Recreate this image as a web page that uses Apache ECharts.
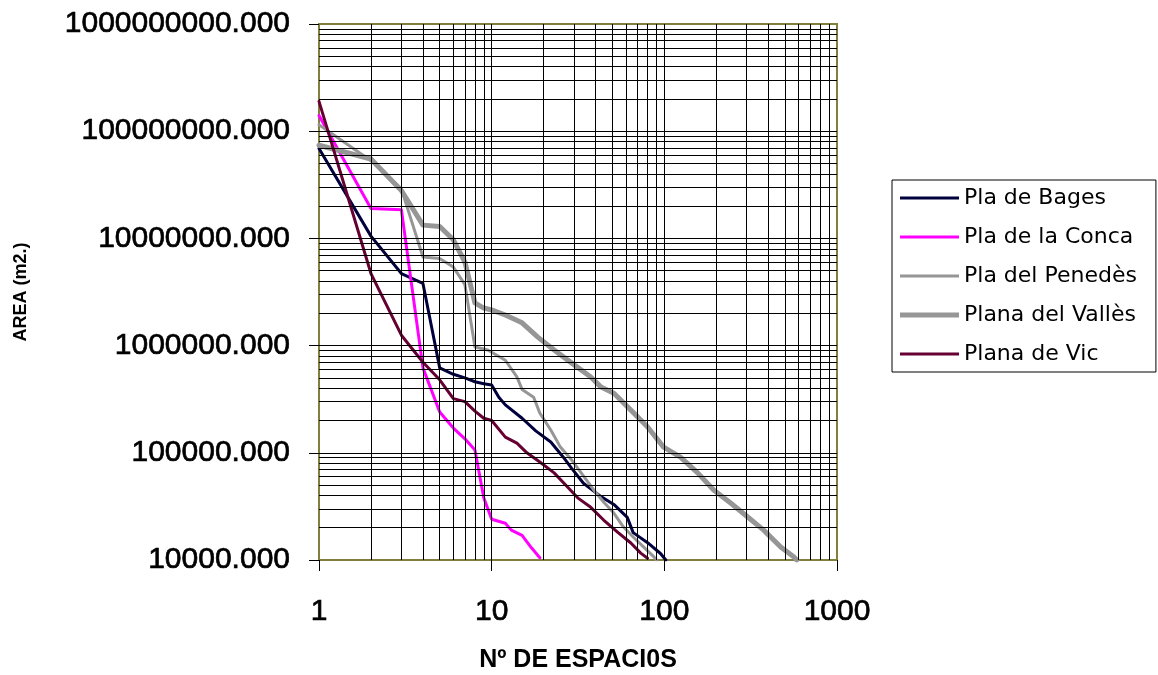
<!DOCTYPE html>
<html>
<head>
<meta charset="utf-8">
<title>Nº de espacios vs área</title>
<script src="https://cdn.jsdelivr.net/npm/echarts@6/dist/echarts.min.js"></script>
<style>
  html, body { margin: 0; padding: 0; background: #ffffff; }
  #chart { width: 1158px; height: 675px; }
</style>
</head>
<body>
<div id="chart"></div>
<script>
// Rank (Nº de espacios) and area (m2)
const bagesRank = [1, 2, 3, 4, 5, 6, 7, 8, 9, 10, 11, 12, 15, 18, 22, 26, 29, 34, 43, 51, 61, 66, 80, 95, 102];
const bagesArea = [6.9e7, 1.05e7, 4.7e6, 3.8e6, 6.2e5, 5.4e5, 5.0e5, 4.6e5, 4.4e5, 4.3e5, 3.3e5, 2.8e5, 2.1e5, 1.6e5, 1.26e5, 9.1e4, 7.2e4, 5.2e4, 3.9e4, 3.3e4, 2.5e4, 1.8e4, 1.45e4, 1.15e4, 1.0e4];

const concaRank = [1, 2, 3, 4, 5, 6, 7, 8, 9, 10, 12, 13, 15, 17, 19];
const concaArea = [1.4e8, 1.9e7, 1.85e7, 6.2e5, 2.4e5, 1.7e5, 1.35e5, 1.06e5, 3.8e4, 2.4e4, 2.2e4, 1.9e4, 1.7e4, 1.3e4, 1.05e4];

const penedesRank = [1, 2, 3, 4, 5, 6, 7, 8, 9.5, 12, 14, 15, 17.5, 19, 22, 25, 29, 33, 39, 45, 51, 58, 66, 76, 87, 90];
const penedesArea = [1.15e8, 5.3e7, 2.9e7, 6.7e6, 6.5e6, 5.4e6, 3.7e6, 9.7e5, 9.1e5, 7.3e5, 5.1e5, 3.9e5, 3.3e5, 2.35e5, 1.63e5, 1.13e5, 8.6e4, 6.5e4, 4.5e4, 3.4e4, 2.74e4, 2.03e4, 1.64e4, 1.32e4, 1.07e4, 1.0e4];

const vallesRank = [1, 2, 3, 4, 5, 6, 7, 8, 9, 10, 12, 15, 18.5, 23, 29, 37.5, 43, 51, 64, 80, 99, 124, 156, 193, 242, 304, 376, 472, 561, 585];
const vallesArea = [7.4e7, 5.5e7, 2.8e7, 1.33e7, 1.29e7, 9.7e6, 6.0e6, 2.5e6, 2.24e6, 2.15e6, 1.93e6, 1.63e6, 1.2e6, 9.1e5, 6.9e5, 5.1e5, 4.1e5, 3.6e5, 2.5e5, 1.74e5, 1.13e5, 9.1e4, 6.5e4, 4.5e4, 3.4e4, 2.52e4, 1.9e4, 1.32e4, 1.07e4, 1.0e4];

const vicRank = [1, 2, 3, 4, 5, 6, 7, 8, 9, 10, 12, 14, 16, 19, 23, 27.5, 31.5, 37.5, 44.5, 54, 64, 73, 80];
const vicArea = [1.9e8, 4.7e6, 1.25e6, 7.0e5, 4.8e5, 3.2e5, 3.0e5, 2.45e5, 2.1e5, 2.0e5, 1.4e5, 1.23e5, 1.0e5, 8.2e4, 6.5e4, 4.8e4, 3.8e4, 3.1e4, 2.36e4, 1.8e4, 1.44e4, 1.16e4, 1.04e4];

const seriesNames = ['Pla de Bages', 'Pla de la Conca', 'Pla del Penedès', 'Plana del Vallès', 'Plana de Vic'];

const xTickLabels = ['1', '10', '100', '1000'];
const yTickLabels = ['10000.000', '100000.000', '1000000.000', '10000000.000', '100000000.000', '1000000000.000'];

// Log gridlines: every 1..9 multiple inside each decade
const xDecades = [1, 10, 100];
const yDecades = [1e4, 1e5, 1e6, 1e7, 1e8];
const decadeMultiples = [1, 2, 3, 4, 5, 6, 7, 8, 9];

function pairs(xs, ys) {
  return xs.map((x, i) => [x, ys[i]]);
}

const gridLines = [];
xDecades.forEach(d => decadeMultiples.forEach(m => {
  const v = d * m;
  if (v > 1) gridLines.push({ xAxis: v });
}));
yDecades.forEach(d => decadeMultiples.forEach(m => {
  const v = d * m;
  if (v > 1e4) gridLines.push({ yAxis: v });
}));

const olive = '#807f3c';
const tickFont = {
  fontFamily: 'Liberation Sans, Arial, sans-serif', fontSize: 30, fontWeight: 'normal', color: '#000',
  textBorderColor: '#000', textBorderWidth: 0.7
};

const seriesStyles = [
  { color: '#00003f', width: 3 },
  { color: '#ff00ff', width: 3 },
  { color: '#969696', width: 3 },
  { color: '#969696', width: 5 },
  { color: '#660033', width: 3 }
];

function lineSeries(i, data) {
  const s = seriesStyles[i];
  return {
    name: seriesNames[i],
    type: 'line',
    data: data,
    symbol: 'none',
    showSymbol: false,
    smooth: false,
    z: 3,
    lineStyle: { color: s.color, width: s.width, join: 'round', cap: 'round' },
    itemStyle: { color: s.color },
    emphasis: { disabled: true }
  };
}

// Legend keys: plain strokes, as thick as the line they stand for
const legendItems = seriesNames.map((name, i) => ({
  name: name,
  icon: 'path://M0 0H59V' + seriesStyles[i].width + 'H0Z',
  itemStyle: { color: seriesStyles[i].color }
}));

const chart = echarts.init(document.getElementById('chart'), null, { renderer: 'canvas' });

chart.setOption({
  animation: false,
  backgroundColor: '#ffffff',
  grid: {
    left: 319, top: 24, width: 518, height: 536,
    outerBoundsMode: 'none',
    containLabel: false,
    show: true, borderColor: olive, borderWidth: 2, backgroundColor: 'transparent'
  },
  legend: {
    data: legendItems,
    orient: 'vertical',
    left: 892, top: 180,
    padding: [6, 19, 6, 8],
    itemWidth: 59, itemHeight: 14, itemGap: 15,
    symbolKeepAspect: true,
    borderColor: '#000', borderWidth: 1,
    backgroundColor: '#fff',
    selectedMode: false,
    textStyle: { fontFamily: 'DejaVu Sans, sans-serif', fontSize: 22, lineHeight: 24, color: '#000' }
  },
  xAxis: {
    type: 'log', logBase: 10, min: 1, max: 1000,
    name: 'Nº DE ESPACI0S',
    nameLocation: 'middle', nameGap: 88,
    nameTextStyle: { fontFamily: 'Liberation Sans, Arial, sans-serif', fontSize: 25, fontWeight: 'bold', color: '#000' },
    axisLine: { show: true, lineStyle: { color: olive, width: 2 } },
    axisTick: { show: true, length: 11, lineStyle: { color: '#000', width: 1 } },
    axisLabel: Object.assign({ margin: 37, formatter: v => xTickLabels[Math.round(Math.log10(v))] }, tickFont),
    splitLine: { show: false },
    minorTick: { show: false },
    minorSplitLine: { show: false }
  },
  yAxis: {
    type: 'log', logBase: 10, min: 1e4, max: 1e9,
    name: 'AREA (m2.)',
    nameLocation: 'middle', nameGap: 289, nameRotate: 90,
    nameTextStyle: { fontFamily: 'Liberation Sans, Arial, sans-serif', fontSize: 18, fontWeight: 'bold', color: '#000' },
    axisLine: { show: true, lineStyle: { color: olive, width: 2 } },
    axisTick: { show: true, length: 10, lineStyle: { color: '#000', width: 1 } },
    axisLabel: Object.assign({ margin: 29, formatter: v => yTickLabels[Math.round(Math.log10(v)) - 4] }, tickFont),
    splitLine: { show: false },
    minorTick: { show: false },
    minorSplitLine: { show: false }
  },
  series: [
    {
      name: 'grid',
      type: 'line',
      data: [],
      z: 1,
      silent: true,
      markLine: {
        silent: true,
        symbol: ['none', 'none'],
        label: { show: false },
        lineStyle: { color: '#000', width: 1, type: 'solid' },
        emphasis: { disabled: true },
        animation: false,
        data: gridLines
      }
    },
    lineSeries(0, pairs(bagesRank, bagesArea)),
    lineSeries(1, pairs(concaRank, concaArea)),
    lineSeries(2, pairs(penedesRank, penedesArea)),
    lineSeries(3, pairs(vallesRank, vallesArea)),
    lineSeries(4, pairs(vicRank, vicArea))
  ]
});
</script>
</body>
</html>
